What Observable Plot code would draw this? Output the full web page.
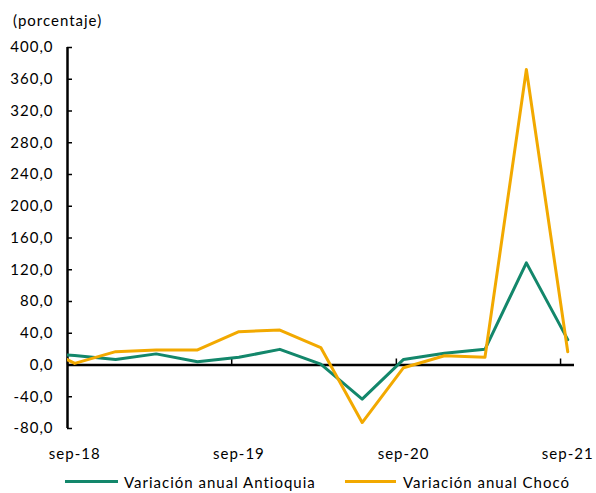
<!DOCTYPE html>
<html>
<head>
<meta charset="utf-8">
<script src="https://cdn.jsdelivr.net/npm/d3@7"></script>
<script src="https://cdn.jsdelivr.net/npm/@observablehq/plot@0.6"></script>
<style>
  body { margin: 0; background: #fff; font-family: Lato, sans-serif; color: #000; }
  #wrap { position: relative; width: 596px; height: 493px; overflow: hidden; }
  #chart { position: absolute; left: 0; top: 0; }
  #unit { position: absolute; left: 13px; top: 11px; font-size: 15px; line-height: 18px; letter-spacing: 1px; }
  .leg { position: absolute; top: 472px; height: 20px; font-size: 15px; line-height: 20px; letter-spacing: 1px; white-space: nowrap; }
  .leg .sw { position: absolute; top: 8px; height: 3px; }
</style>
</head>
<body>
<div id="wrap">
  <div id="chart"></div>
  <div id="unit">(porcentaje)</div>
  <div id="legend"></div>
</div>
<script>
// ---- data ----
const periods = ["jun-18","sep-18","dic-18","mar-19","jun-19","sep-19","dic-19","mar-20","jun-20","sep-20","dic-20","mar-21","jun-21","sep-21"];
const antioquia = [15, 12, 7, 14, 4, 9.7, 19.7, 1, -43, 7, 14.7, 19.7, 128.7, 32];
const choco     = [28.6, 2, 16.8, 18.9, 19, 42, 44, 22, -72.5, -3.4, 11.7, 9.7, 372.3, 16.8];
const seriesNames  = ["Variación anual Antioquia", "Variación anual Chocó"];
const seriesColors = ["#13876b", "#f2a900"];
const yTicks = [-80, -40, 0, 40, 80, 120, 160, 200, 240, 280, 320, 360, 400];
const xTickLabels = ["sep-18", "sep-19", "sep-20", "sep-21"];
const unitLabel = "(porcentaje)";

// ---- helpers ----
const monthIdx = {ene:0, feb:1, mar:2, abr:3, may:4, jun:5, jul:6, ago:7, sep:8, oct:9, nov:10, dic:11};
function parsePeriod(p, day) {
  const [m, y] = p.split("-");
  return new Date(Date.UTC(2000 + +y, monthIdx[m], day));
}
const pointDate = p => parsePeriod(p, 17);
const tickDate = p => parsePeriod(p, 1);

const rows = [];
periods.forEach((p, i) => {
  rows.push({date: pointDate(p), value: antioquia[i], serie: seriesNames[0]});
});
periods.forEach((p, i) => {
  rows.push({date: pointDate(p), value: choco[i], serie: seriesNames[1]});
});

const tickDates = xTickLabels.map(tickDate);
const labelDates = xTickLabels.map(pointDate);
const labelByTime = new Map(labelDates.map((d, i) => [+d, xTickLabels[i]]));
const xDomain = [tickDates[0], new Date(+tickDates[tickDates.length - 1] + 31 * 864e5)];
const fmt = d => d.toFixed(1).replace(".", ",");

const chart = Plot.plot({
  width: 596,
  height: 465,
  marginLeft: 67,
  marginRight: 22,
  marginTop: 47,
  marginBottom: 37,
  style: {fontFamily: "Lato, sans-serif", fontSize: "15px", letterSpacing: "1px", color: "#000", background: "#fff"},
  x: {type: "utc", domain: xDomain, ticks: labelDates, tickFormat: d => labelByTime.get(+d), tickSize: 0, tickPadding: 20, label: null},
  y: {domain: [-80, 400], ticks: yTicks, tickFormat: fmt, tickSize: 0, tickPadding: 14, label: null},
  marks: [
    Plot.ruleY([0], {stroke: "#000", strokeWidth: 2.5}),
    Plot.ruleX([xDomain[0]], {stroke: "#000", strokeWidth: 2.5}),
    Plot.ruleY(yTicks, {y: d => d, x1: xDomain[0], x2: xDomain[0], insetRight: -5, stroke: "#000", strokeWidth: 1.5}),
    Plot.ruleX(tickDates, {x: d => d, y1: 0, y2: 0, insetBottom: 6, stroke: "#000", strokeWidth: 1.5}),
    Plot.line(rows.filter(r => r.serie === seriesNames[0]), {x: "date", y: "value", stroke: seriesColors[0], strokeWidth: 3, clip: true}),
    Plot.line(rows.filter(r => r.serie === seriesNames[1]), {x: "date", y: "value", stroke: seriesColors[1], strokeWidth: 3, clip: true})
  ]
});
document.getElementById("chart").appendChild(chart);
document.getElementById("unit").textContent = unitLabel;

// ---- legend ----
const legend = document.getElementById("legend");
const legPos = [{sw: 65, swW: 53, tx: 124}, {sw: 345, swW: 51, tx: 403}];
seriesNames.forEach((name, i) => {
  const sw = document.createElement("div");
  sw.className = "leg";
  sw.innerHTML = `<div class="sw" style="left:${legPos[i].sw}px;width:${legPos[i].swW}px;background:${seriesColors[i]}"></div>`;
  legend.appendChild(sw);
  const t = document.createElement("div");
  t.className = "leg";
  t.style.left = legPos[i].tx + "px";
  t.textContent = name;
  legend.appendChild(t);
});
</script>
</body>
</html>
